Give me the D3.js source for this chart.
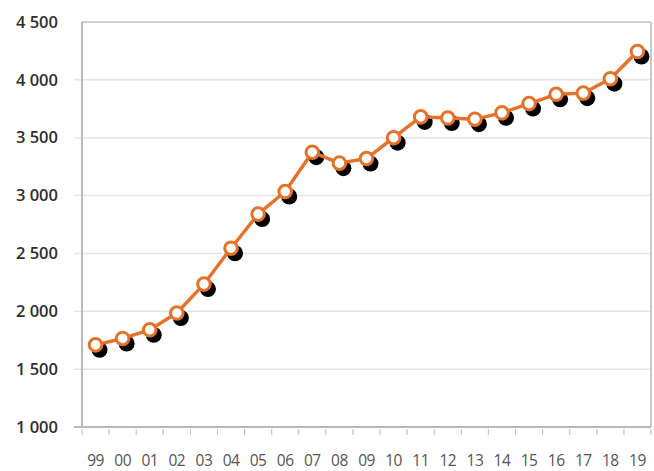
<!DOCTYPE html>
<html><head><meta charset="utf-8">
<script src="https://cdn.jsdelivr.net/npm/d3@7"></script>
<style>body{margin:0;background:#fff}svg{display:block}</style>
</head><body>
<script>
const years = ["99","00","01","02","03","04","05","06","07","08","09","10","11","12","13","14","15","16","17","18","19"];
const values = [1710,1765,1840,1985,2235,2545,2840,3035,3375,3280,3320,3500,3680,3670,3660,3715,3795,3875,3885,4010,4245];
const yTicks = [1000,1500,2000,2500,3000,3500,4000,4500];

const W = 654, H = 471;
const mLeft = 82, mRight = 651, mTop = 22, mBottom = 427;
const orange = "#e6722a";
const svg = d3.select("body").append("svg").attr("width", W).attr("height", H);

const x = d3.scaleBand().domain(years).range([mLeft, mRight]);
const y = d3.scaleLinear().domain([1000, 4500]).range([mBottom, mTop]);
const fmt = v => d3.format(",")(v).replace(",", " ");

// gridlines
svg.append("g").selectAll("line").data(yTicks.filter(t => t > 1000 && t < 4500)).join("line")
  .attr("x1", 74).attr("x2", mRight).attr("y1", d => y(d)).attr("y2", d => y(d))
  .attr("stroke", "#e4e4e4").attr("stroke-width", 1.5);

// frame
svg.append("line").attr("x1", mLeft).attr("x2", mRight).attr("y1", mTop).attr("y2", mTop).attr("stroke", "#d0d0d0").attr("stroke-width", 2);
svg.append("line").attr("x1", mRight).attr("x2", mRight).attr("y1", mTop).attr("y2", mBottom).attr("stroke", "#c8c8c8").attr("stroke-width", 2);
svg.append("line").attr("x1", mLeft).attr("x2", mLeft).attr("y1", mTop).attr("y2", mBottom).attr("stroke", "#b8b8b8").attr("stroke-width", 2);
svg.append("line").attr("x1", 74).attr("x2", mRight).attr("y1", mBottom).attr("y2", mBottom).attr("stroke", "#b8b8b8").attr("stroke-width", 2);

// y axis labels
const yAxis = d3.axisLeft(y).tickValues(yTicks).tickFormat(fmt).tickSize(0).tickPadding(0);
const gy = svg.append("g").attr("transform", "translate(58,0)").call(yAxis);
gy.select(".domain").remove();
gy.selectAll("text").attr("font-family", "'Open Sans', sans-serif").attr("font-size", 16.5)
  .attr("font-weight", 600).attr("fill", "#2e2e2e");

// x axis: ticks at band boundaries, labels centered
const bounds = years.map(d => x(d)).concat([mRight]);
svg.append("g").selectAll("line").data(bounds).join("line")
  .attr("x1", d => d).attr("x2", d => d).attr("y1", mBottom + 2).attr("y2", mBottom + 8)
  .attr("stroke", "#c4c4c4").attr("stroke-width", 1.2);
const xAxis = d3.axisBottom(x).tickSize(0).tickPadding(0);
const gx = svg.append("g").attr("transform", `translate(0,${mBottom + 28})`).call(xAxis);
gx.select(".domain").remove();
gx.selectAll("text").attr("font-family", "'Open Sans', sans-serif").attr("font-size", 15.5)
  .attr("letter-spacing", -0.5).attr("fill", "#555");

// shadows
svg.append("g").selectAll("circle").data(values).join("circle")
  .attr("cx", (d, i) => x(years[i]) + x.bandwidth() / 2 + 4)
  .attr("cy", d => y(d) + 5).attr("r", 8).attr("fill", "#000");

// line
const line = d3.line().x((d, i) => x(years[i]) + x.bandwidth() / 2).y(d => y(d));
svg.append("path").datum(values).attr("d", line).attr("fill", "none")
  .attr("stroke", orange).attr("stroke-width", 3.4).attr("stroke-linejoin", "round");

// markers
svg.append("g").selectAll("circle").data(values).join("circle")
  .attr("cx", (d, i) => x(years[i]) + x.bandwidth() / 2)
  .attr("cy", d => y(d)).attr("r", 6.3).attr("fill", "#fff")
  .attr("stroke", orange).attr("stroke-width", 3);
</script>
</body></html>
